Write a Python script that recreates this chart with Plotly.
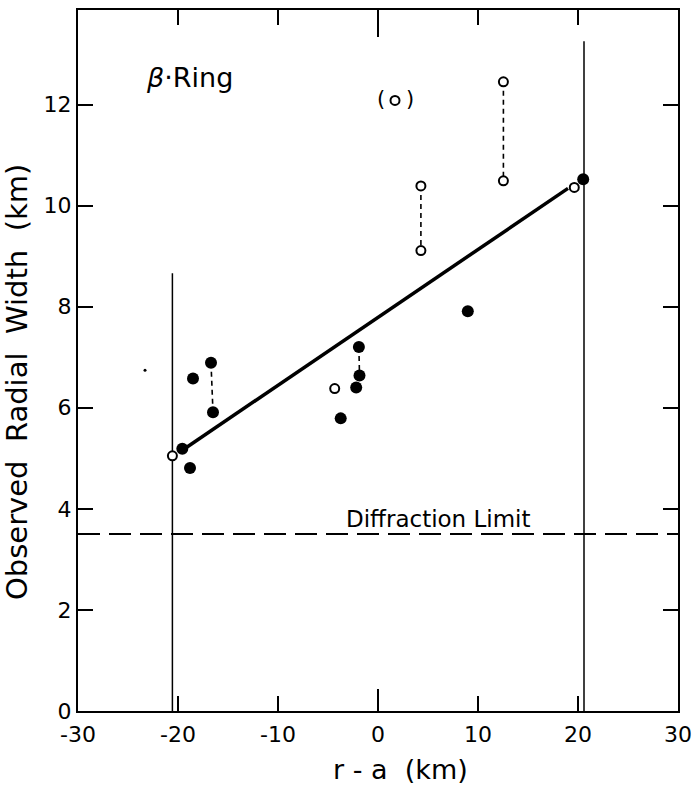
import plotly.graph_objects as go

# ---- data ----
filled_x = [-19.57, -18.8, -18.5, -16.7, -16.5, -3.73, -1.91, -1.85, -2.18, 8.98, 20.52]
filled_y = [5.19, 4.81, 6.58, 6.89, 5.91, 5.79, 7.20, 6.64, 6.40, 7.91, 10.52]

open_x = [-20.56, -4.33, 4.29, 4.29, 12.54, 12.54, 19.63]
open_y = [5.05, 6.38, 10.39, 9.11, 12.45, 10.49, 10.36]

bracketed_x = [1.7]
bracketed_y = [12.08]

pair_x0 = [-16.7, -1.91, 4.29, 12.54]
pair_y0 = [6.89, 7.20, 10.39, 12.45]
pair_x1 = [-16.5, -1.85, 4.29, 12.54]
pair_y1 = [5.91, 6.64, 9.11, 10.49]

fit_x = [-19.2, 19.0]
fit_y = [5.21, 10.34]

boundary_x = [-20.56, 20.6]
boundary_top = [8.66, 13.25]

diffraction_limit = 3.5

speck_x = [-23.3]
speck_y = [6.74]

x_ticks = [-30, -20, -10, 0, 10, 20, 30]
x_ticktext = ["-30", "-20", "-10", "0", "10", "20", "30"]
y_ticks = [0, 2, 4, 6, 8, 10, 12]
y_ticktext = ["0", "2", "4", "6", "8", "10", "12"]

FONT = "DejaVu Sans"

fig = go.Figure()

# boundary vertical lines
for bx, bt in zip(boundary_x, boundary_top):
    fig.add_trace(go.Scatter(x=[bx, bx], y=[0, bt], mode="lines",
                             line=dict(color="black", width=1.5), hoverinfo="skip"))

# diffraction limit
fig.add_trace(go.Scatter(x=[x_ticks[0], x_ticks[-1]], y=[diffraction_limit, diffraction_limit],
                         mode="lines", line=dict(color="black", width=2, dash="22px,9px"),
                         hoverinfo="skip"))

# dashed connectors for paired points
for a, b, c, d in zip(pair_x0, pair_y0, pair_x1, pair_y1):
    fig.add_trace(go.Scatter(x=[a, c], y=[b, d], mode="lines",
                             line=dict(color="black", width=1.6, dash="5px,4px"), hoverinfo="skip"))

# fit line
fig.add_trace(go.Scatter(x=fit_x, y=fit_y, mode="lines",
                         line=dict(color="black", width=3.5), hoverinfo="skip"))

# open circles
fig.add_trace(go.Scatter(x=open_x + bracketed_x, y=open_y + bracketed_y, mode="markers",
                         marker=dict(symbol="circle", size=9, color="white",
                                     line=dict(color="black", width=2))))

# filled circles
fig.add_trace(go.Scatter(x=filled_x, y=filled_y, mode="markers",
                         marker=dict(symbol="circle", size=12, color="black",
                                     line=dict(color="black", width=0))))

# speck
fig.add_trace(go.Scatter(x=speck_x, y=speck_y, mode="markers",
                         marker=dict(size=3, color="black")))

axis_common = dict(showgrid=False, zeroline=False, showline=True, linecolor="black",
                   linewidth=2, mirror="ticks", ticks="inside", ticklen=15, tickwidth=2,
                   tickcolor="black", showticklabels=True,
                   tickfont=dict(family=FONT, size=22, color="black"))

fig.update_layout(
    width=700, height=785,
    margin=dict(l=78, r=15, t=8, b=74),
    paper_bgcolor="white", plot_bgcolor="white",
    showlegend=False,
    xaxis=dict(range=[-30, 30], tickmode="array", tickvals=x_ticks, ticktext=x_ticktext,
               ticklabelstandoff=3, **axis_common),
    yaxis=dict(range=[0, 13.87], tickmode="array", tickvals=y_ticks, ticktext=y_ticktext,
               **axis_common),
    font=dict(family=FONT, color="black"),
)

# longer centre ticks at x=0 (top and bottom)
fig.add_shape(type="line", xref="x", yref="y domain", x0=0, x1=0,
              ysizemode="pixel", yanchor=0, y0=0, y1=22, line=dict(color="black", width=2))
fig.add_shape(type="line", xref="x", yref="y domain", x0=0, x1=0,
              ysizemode="pixel", yanchor=1, y0=0, y1=-27, line=dict(color="black", width=2))

nb = "\u00a0\u00a0"
fig.add_annotation(text="Observed" + nb + "Radial" + nb + "Width" + nb + "(km)",
                   textangle=-90, xref="paper", yref="paper", x=-0.102, y=0.469,
                   xanchor="center", yanchor="middle", showarrow=False,
                   font=dict(family=FONT, size=29))
fig.add_annotation(text="r - a\u00a0\u00a0(km)", xref="paper", yref="paper", x=0.537, y=-0.083,
                   xanchor="center", yanchor="middle", showarrow=False,
                   font=dict(family=FONT, size=27))
fig.add_annotation(text="<i>β</i>·Ring", xref="x", yref="y", x=-23.4, y=12.54,
                   xanchor="left", yanchor="middle", showarrow=False,
                   font=dict(family=FONT, size=27))
fig.add_annotation(text="Diffraction Limit", xref="x", yref="y", x=6.05, y=3.8,
                   xanchor="center", yanchor="middle", showarrow=False,
                   font=dict(family=FONT, size=23))
fig.add_annotation(text="(", xref="x", yref="y", x=0.25, y=12.1,
                   xanchor="center", yanchor="middle", showarrow=False,
                   font=dict(family=FONT, size=21))
fig.add_annotation(text=")", xref="x", yref="y", x=3.2, y=12.1,
                   xanchor="center", yanchor="middle", showarrow=False,
                   font=dict(family=FONT, size=21))

fig.write_html("out.html")
